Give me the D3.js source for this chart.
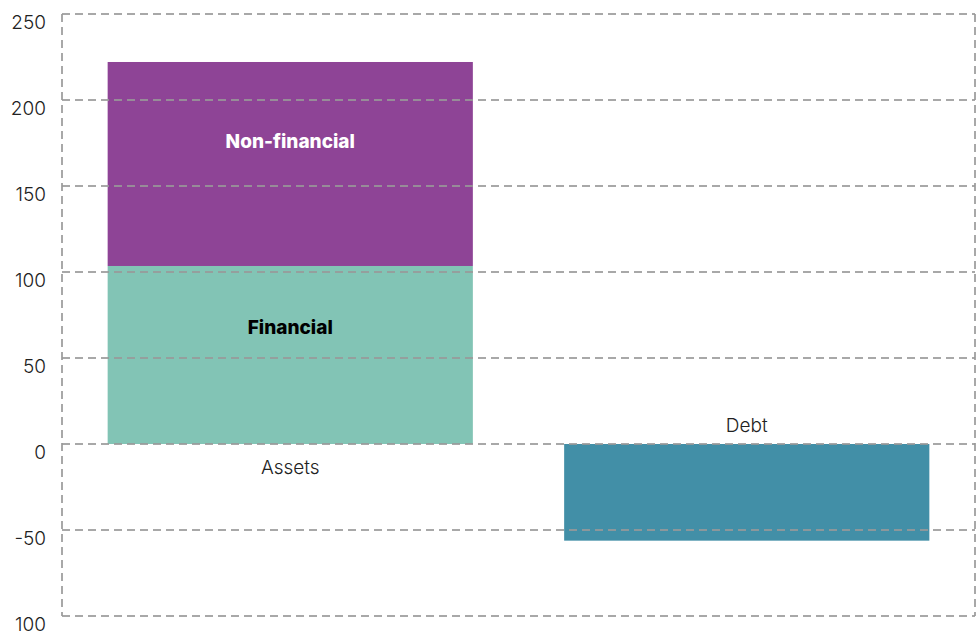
<!DOCTYPE html>
<html>
<head>
<meta charset="utf-8">
<script src="https://cdn.jsdelivr.net/npm/d3@7"></script>
<style>
body{margin:0;background:#fff;}
text{font-family:Inter,"Noto Sans",sans-serif;}
</style>
</head>
<body>
<script>
var w=978,h=633;
var categories=['Assets','Debt'];
var financial=[103.5,0];
var nonFinancial=[118.6,0];
var debt=[0,-56.2];
var yTicks=[250,200,150,100,50,0,-50,-100];
var tickLabels=['250','200','150','100','50','0','-50','100'];

var svg=d3.select('body').append('svg').attr('width',w).attr('height',h);

var x=d3.scaleBand().domain(categories).range([62,975]).paddingInner(0.2).paddingOuter(0.1);
var y=d3.scaleLinear().domain([-100,250]).range([616,14]);

// bars
var stacks=categories.map(function(c,i){
  return [
    {cat:c,y0:0,y1:financial[i],fill:'#82c4b5'},
    {cat:c,y0:financial[i],y1:financial[i]+nonFinancial[i],fill:'#8e4496'},
    {cat:c,y0:0,y1:debt[i],fill:'#428fa7'}
  ];
});
var segs=[].concat.apply([],stacks).filter(function(d){return d.y1!==d.y0;});
svg.selectAll('rect.bar').data(segs).enter().append('rect').attr('class','bar')
  .attr('x',function(d){return x(d.cat);})
  .attr('width',x.bandwidth())
  .attr('y',function(d){return y(Math.max(d.y0,d.y1));})
  .attr('height',function(d){return Math.abs(y(d.y0)-y(d.y1));})
  .attr('fill',function(d){return d.fill;});

// grid
var grid=svg.append('g').attr('stroke','#999').attr('stroke-width',2).attr('stroke-dasharray','8,5').attr('fill','none').attr('stroke-opacity',0.85);
grid.selectAll('line.h').data(yTicks).enter().append('line').attr('class','h')
  .attr('x1',62).attr('x2',975)
  .attr('y1',function(d){return y(d);}).attr('y2',function(d){return y(d);});
grid.selectAll('line.v').data([62,975]).enter().append('line').attr('class','v')
  .attr('x1',function(d){return d;}).attr('x2',function(d){return d;})
  .attr('y1',y(250)).attr('y2',y(-100));

// y labels
svg.selectAll('text.tick').data(yTicks).enter().append('text').attr('class','tick')
  .attr('x',46).attr('y',function(d){return y(d)+15;})
  .attr('text-anchor','end')
  .style('font-size','19px').style('font-weight',300).style('fill','#222')
  .text(function(d,i){return tickLabels[i];});

// segment labels
var top0=y(financial[0]+nonFinancial[0]),mid0=y(financial[0]),base0=y(0);
svg.append('text').attr('x',x('Assets')+x.bandwidth()/2).attr('y',top0+(mid0-top0)*0.387+7)
  .attr('text-anchor','middle').style('font-size','19px').style('font-weight',800).style('fill','#fff')
  .text('Non-financial');
svg.append('text').attr('x',x('Assets')+x.bandwidth()/2).attr('y',mid0+(base0-mid0)*0.343+7)
  .attr('text-anchor','middle').style('font-size','19px').style('font-weight',800).style('fill','#000')
  .text('Financial');

// category labels
svg.append('text').attr('x',x('Assets')+x.bandwidth()/2).attr('y',y(0)+30)
  .attr('text-anchor','middle').style('font-size','19px').style('font-weight',300).style('fill','#222')
  .text('Assets');
svg.append('text').attr('x',x('Debt')+x.bandwidth()/2).attr('y',y(0)-12)
  .attr('text-anchor','middle').style('font-size','19px').style('font-weight',300).style('fill','#222')
  .text('Debt');
</script>
</body>
</html>
